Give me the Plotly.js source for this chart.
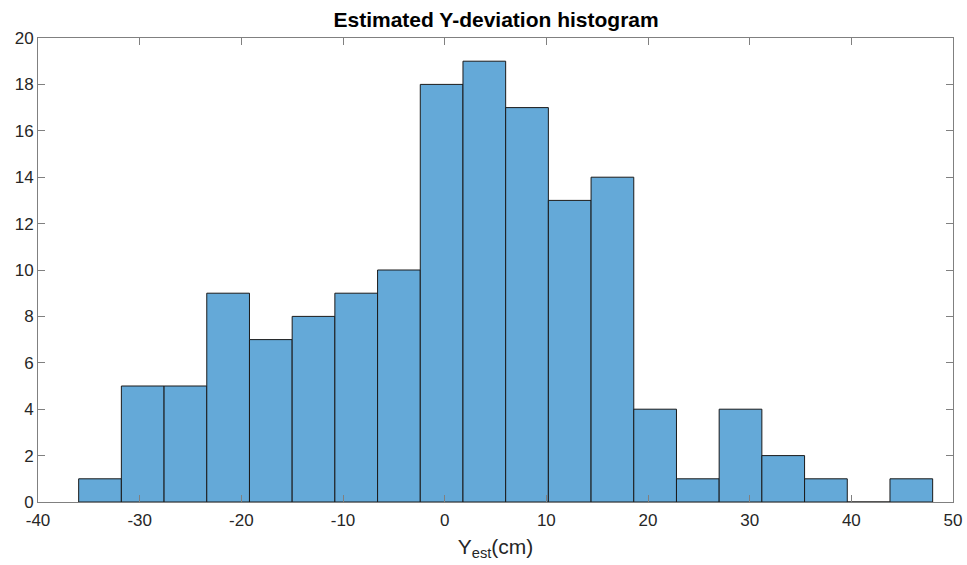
<!DOCTYPE html>
<html>
<head>
<meta charset="utf-8">
<script src="https://cdn.plot.ly/plotly-3.0.1.min.js"></script>
<style>html,body{margin:0;padding:0;background:#fff;}#chart{width:967px;height:565px;}</style>
</head>
<body>
<div id="chart"></div>
<script>
// Histogram bin edges (cm) and counts
const binEdges = [-36, -31.8, -27.6, -23.4, -19.2, -15, -10.8, -6.6, -2.4, 1.8, 6, 10.2, 14.4, 18.6, 22.8, 27, 31.2, 35.4, 39.6, 43.8, 48];
const counts = [1, 5, 5, 9, 7, 8, 9, 10, 18, 19, 17, 13, 14, 4, 1, 4, 2, 1, 0, 1];
const xTicks = [-40, -30, -20, -10, 0, 10, 20, 30, 40, 50];
const yTicks = [0, 2, 4, 6, 8, 10, 12, 14, 16, 18, 20];

const centers = counts.map((_, i) => (binEdges[i] + binEdges[i + 1]) / 2);
const widths = counts.map((_, i) => binEdges[i + 1] - binEdges[i]);

const trace = {
  type: 'bar',
  x: centers,
  y: counts,
  width: widths,
  marker: { color: 'rgb(100,169,216)', line: { color: '#1a1a1a', width: 1 } },
  hoverinfo: 'x+y'
};

const axisCommon = {
  showgrid: false,
  zeroline: false,
  showline: true,
  linecolor: '#808080',
  linewidth: 1,
  mirror: 'ticks',
  ticks: 'inside',
  ticklen: 7,
  tickcolor: '#808080',
  tickwidth: 1,
  tickfont: { family: 'Liberation Sans, Arial, sans-serif', size: 17, color: '#262626' }
};

const layout = {
  width: 967,
  height: 565,
  margin: { l: 38, r: 14, t: 38, b: 63 },
  paper_bgcolor: '#ffffff',
  plot_bgcolor: '#ffffff',
  showlegend: false,
  bargap: 0,
  title: {
    text: '<b>Estimated Y-deviation histogram</b>',
    font: { family: 'Liberation Sans, Arial, sans-serif', size: 21, color: '#000000' },
    x: 0.513, xanchor: 'center', y: 0.965, yanchor: 'middle'
  },
  xaxis: Object.assign({}, axisCommon, {
    range: [-40, 50],
    tickvals: xTicks,
    ticktext: xTicks.map(String),
    ticklabelstandoff: 3,
    title: { text: 'Y<sub>est</sub>(cm)', font: { family: 'Liberation Sans, Arial, sans-serif', size: 21, color: '#262626' }, standoff: 9 }
  }),
  yaxis: Object.assign({}, axisCommon, {
    range: [0, 20],
    tickvals: yTicks,
    ticktext: yTicks.map(String)
  })
};

Plotly.newPlot('chart', [trace], layout, { displayModeBar: false, staticPlot: true });
</script>
</body>
</html>
